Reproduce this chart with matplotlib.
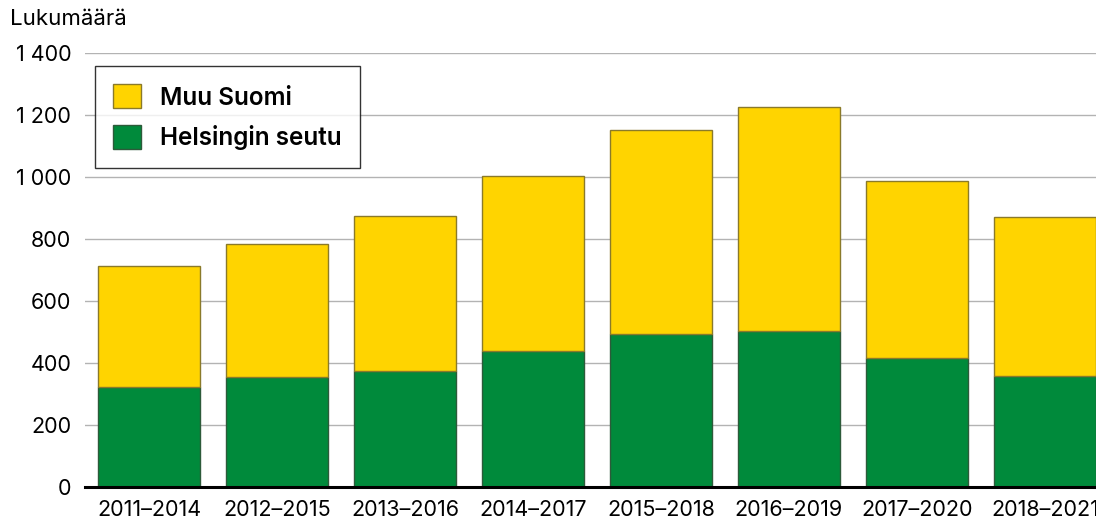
import numpy as np
import matplotlib
matplotlib.use("Agg")
import matplotlib.pyplot as plt
from matplotlib.ticker import FuncFormatter

plt.rcParams['font.family'] = ['Inter', 'DejaVu Sans']

periods = ["2011–2014", "2012–2015", "2013–2016", "2014–2017",
           "2015–2018", "2016–2019", "2017–2020", "2018–2021"]
helsinki = [323, 355, 374, 439, 494, 503, 416, 359]
muu_suomi = [389, 430, 500, 563, 657, 723, 571, 511]

green = "#008A3B"
yellow = "#FFD400"

fig = plt.figure(figsize=(10.96, 5.23), dpi=100)
ax = fig.add_axes([0.0776, 0.0688, 0.9224, 0.8299])

x = np.arange(len(periods))
ax.bar(x, helsinki, width=0.8, color=green, edgecolor="#2d5a3a", linewidth=1.0,
       label="Helsingin seutu", zorder=3)
ax.bar(x, muu_suomi, width=0.8, bottom=helsinki, color=yellow, edgecolor="#8a7a2a",
       linewidth=1.0, label="Muu Suomi", zorder=3)

ax.set_xlim(-0.5, 7.4)
ax.set_ylim(0, 1400)
ax.set_yticks(np.arange(0, 1401, 200))
ax.yaxis.set_major_formatter(FuncFormatter(lambda v, p: f"{int(v):,}".replace(",", " ")))
ax.set_xticks(x)
ax.set_xticklabels(periods)
ax.tick_params(axis="both", length=0, labelsize=15.5, colors="black")
ax.tick_params(axis="y", pad=10)
ax.tick_params(axis="x", pad=9)

ax.grid(axis="y", color="#b3b3b3", linewidth=1.0, zorder=0)
for s in ["top", "right", "left"]:
    ax.spines[s].set_visible(False)
ax.spines["bottom"].set_linewidth(2.2)
ax.spines["bottom"].set_color("black")
ax.spines["bottom"].set_zorder(4)

handles, labels = ax.get_legend_handles_labels()
leg = ax.legend(handles[::-1], labels[::-1], loc="upper left",
                bbox_to_anchor=(0.0095, 0.97), frameon=True,
                fancybox=False, edgecolor="black", handlelength=1.15,
                handleheight=1.15, handletextpad=0.8, borderpad=0.75,
                labelspacing=0.62, borderaxespad=0.0,
                prop={"weight": "semibold", "size": 17.5})
leg.get_frame().set_linewidth(1.0)

fig.text(0.009, 0.963, "Lukumäärä", fontsize=16, va="center", ha="left")

fig.savefig("out.png", dpi=100)
